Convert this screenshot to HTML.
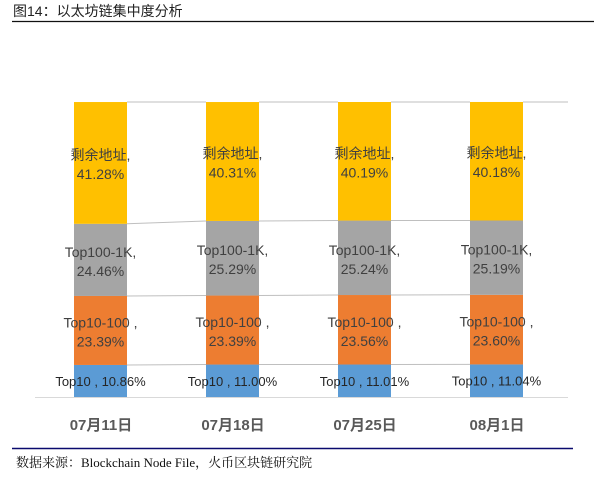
<!DOCTYPE html>
<html><head><meta charset="utf-8"><style>
body{margin:0;background:#fff;width:606px;height:479px;overflow:hidden}
svg{display:block}
text{font-family:"Liberation Sans","Noto Sans CJK SC",sans-serif}
</style></head><body>
<svg width="606" height="479" viewBox="0 0 606 479">
<text x="13" y="16" font-size="14" fill="#222">图14：以太坊链集中度分析</text>
<line x1="12" y1="21.5" x2="594" y2="21.5" stroke="#111" stroke-width="1.2"/>
<g id="bars"></g>
<line x1="35" y1="397.5" x2="568" y2="397.5" stroke="#d9d9d9" stroke-width="1"/>
<g font-size="15" font-weight="bold" fill="#595959" text-anchor="middle">
<text x="101" y="430">07月11日</text><text x="233" y="430">07月18日</text><text x="365" y="430">07月25日</text><text x="497" y="430">08月1日</text>
</g>
<line x1="12" y1="448.5" x2="573" y2="448.5" stroke="#0a0a6e" stroke-width="1.5"/>
<text x="16" y="467" font-size="13" fill="#111" style="font-family:'Liberation Serif','Noto Serif CJK SC',serif">数据来源：Blockchain Node File，火币区块链研究院</text>
</svg>
<script>
var d=[[10.86,23.39,24.46,41.28],[11.00,23.39,25.29,40.31],[11.01,23.56,25.24,40.19],[11.04,23.60,25.19,40.18]];
var xs=[74,206,338,470],w=53,B=397,H=295,col=["#5B9BD5","#ED7D31","#A5A5A5","#FFC000"];
var s="",bnd=[];
d.forEach(function(v,i){var y=B,b=[];v.forEach(function(p,j){var h=p/100*H;y-=h;b.push(y);s+='<rect x="'+xs[i]+'" y="'+y+'" width="'+w+'" height="'+h+'" fill="'+col[j]+'"/>';});bnd.push(b);});
for(var i=0;i<3;i++)for(var j=0;j<3;j++)s+='<line x1="'+(xs[i]+w)+'" y1="'+bnd[i][j]+'" x2="'+xs[i+1]+'" y2="'+bnd[i+1][j]+'" stroke="#bfbfbf" stroke-width="1"/>';
s+='<line x1="'+(xs[3]+w)+'" y1="102" x2="568" y2="102" stroke="#bfbfbf"/>';
for(i=0;i<3;i++)s+='<line x1="'+(xs[i]+w)+'" y1="102" x2="'+xs[i+1]+'" y2="102" stroke="#bfbfbf"/>';
var names=["Top10 , ","Top10-100 ,","Top100-1K,","剩余地址,"];
d.forEach(function(v,i){var cx=xs[i]+w/2,y=B;v.forEach(function(p,j){var h=p/100*H,m=y-h/2;y-=h;
if(j==0){s+='<text x="'+cx+'" y="'+(m+5)+'" font-size="13" fill="#262626" text-anchor="middle">'+names[0]+p.toFixed(2)+'%</text>';}
else{s+='<text x="'+cx+'" y="'+(m-3)+'" font-size="14" fill="#404040" text-anchor="middle">'+names[j]+'</text><text x="'+cx+'" y="'+(m+16)+'" font-size="14" fill="#404040" text-anchor="middle">'+p.toFixed(2)+'%</text>';}
});});
document.getElementById("bars").innerHTML=s;
</script>
</body></html>
